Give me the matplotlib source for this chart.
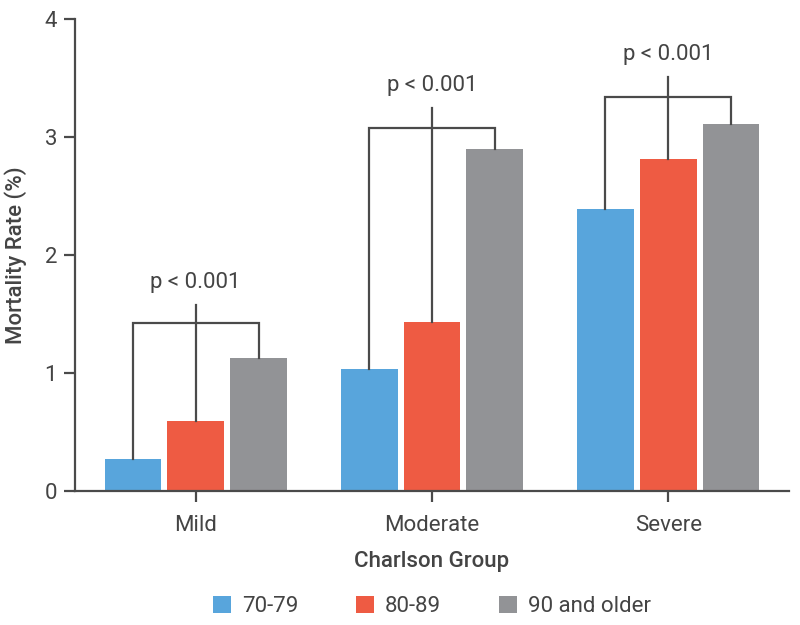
import matplotlib.pyplot as plt
import numpy as np

groups = ["Mild", "Moderate", "Severe"]
series = ["70-79", "80-89", "90 and older"]
rate_70 = [0.27, 1.03, 2.39]
rate_80 = [0.59, 1.43, 2.81]
rate_90 = [1.13, 2.90, 3.11]
bracket_y = [1.42, 3.08, 3.34]
bracket_top = [1.58, 3.25, 3.51]
p_labels = ["p < 0.001", "p < 0.001", "p < 0.001"]
y_ticks = [0, 1, 2, 3, 4]

colors = ["#58a5dc", "#ee5b43", "#929396"]
ink = "#4a4a4a"
text_col = "#444444"

plt.rcParams["font.family"] = ["Roboto", "DejaVu Sans"]

fig = plt.figure(figsize=(8, 6.25), dpi=100)
ax = fig.add_axes([0.094, 0.2144, 0.892, 0.7552])

x = np.arange(len(groups))
width = 0.24
step = 0.266
values = [rate_70, rate_80, rate_90]
for i, (vals, col, name) in enumerate(zip(values, colors, series)):
    ax.bar(x + (i - 1) * step, vals, width, color=col, label=name, zorder=2)

# significance brackets
for k in range(len(groups)):
    xl, xc, xr = x[k] - step, x[k], x[k] + step
    yb = bracket_y[k]
    ax.plot([xl, xl, xr, xr], [rate_70[k], yb, yb, rate_90[k]],
            color=ink, lw=1.6, solid_joinstyle="miter", zorder=3)
    ax.plot([xc, xc], [rate_80[k], bracket_top[k]], color=ink, lw=1.6, zorder=3)
    ax.text(xc, bracket_top[k] + 0.1, p_labels[k], ha="center", va="bottom",
            fontsize=16, color=text_col)

ax.set_xlim(-0.51, 2.51)
ax.set_ylim(0, 4)
ax.set_xticks(x)
ax.set_xticklabels(groups)
ax.set_yticks(y_ticks)
for s in ["top", "right"]:
    ax.spines[s].set_visible(False)
for s in ["left", "bottom"]:
    ax.spines[s].set_color(ink)
    ax.spines[s].set_linewidth(1.6)
ax.tick_params(axis="both", colors=ink, width=1.6, length=8, labelsize=16,
               labelcolor=text_col, pad=9)
ax.tick_params(axis="y", pad=5)

ax.set_xlabel("Charlson Group", fontsize=16, color=text_col, fontweight="medium",
              labelpad=11)
ax.set_ylabel("Mortality Rate (%)", fontsize=16, color=text_col,
              fontweight="medium")
ax.yaxis.set_label_coords(-0.068, 0.5)

ax.legend(loc="center", bbox_to_anchor=(0.5, -0.245), ncol=3, frameon=False,
          fontsize=16, handlelength=0.8, handleheight=0.8, handletextpad=0.5,
          columnspacing=2.6, labelcolor=text_col)

fig.savefig("out.png", dpi=100)
